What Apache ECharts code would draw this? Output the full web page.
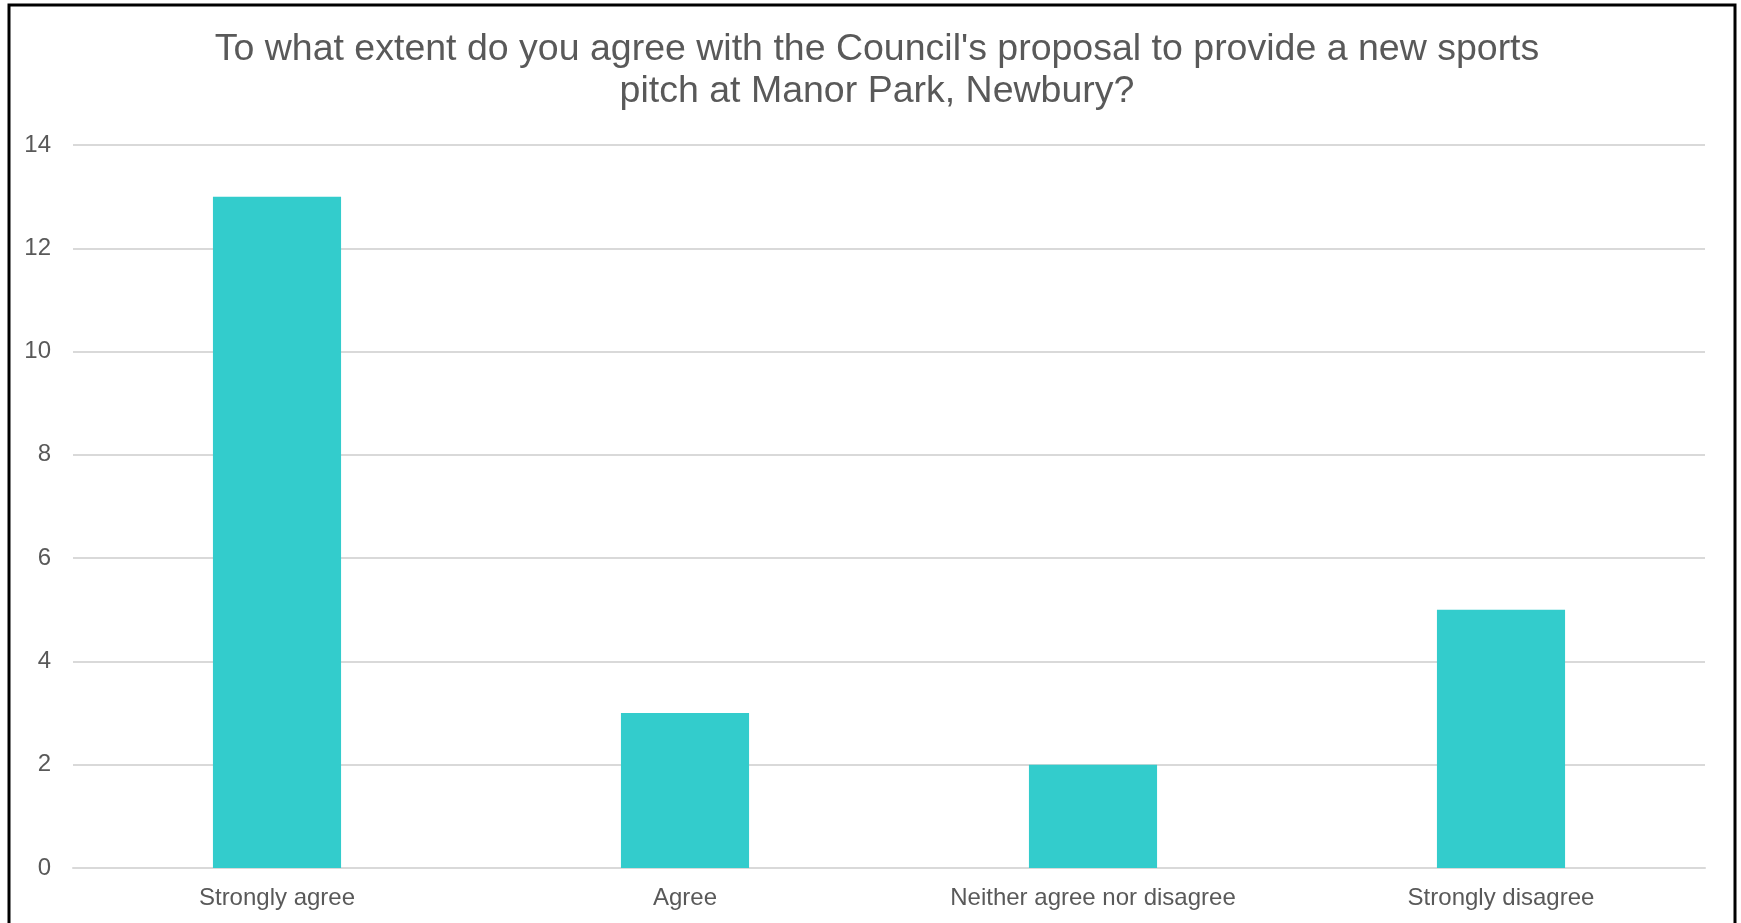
<!DOCTYPE html>
<html>
<head>
<meta charset="utf-8">
<script src="https://cdn.jsdelivr.net/npm/echarts@6/dist/echarts.min.js"></script>
<style>html,body{margin:0;padding:0;background:#fff;}#c{width:1741px;height:923px;}</style>
</head>
<body>
<div id="c"></div>
<script>
const titleText = "To what extent do you agree with the Council's proposal to provide a new sports\npitch at Manor Park, Newbury?";
const categories = ["Strongly agree", "Agree", "Neither agree nor disagree", "Strongly disagree"];
const values = [13, 3, 2, 5];
const yTicks = { min: 0, max: 14, interval: 2 };

const chart = echarts.init(document.getElementById('c'), null, { renderer: 'canvas' });
chart.setOption({
  animation: false,
  backgroundColor: '#ffffff',
  title: {
    text: titleText,
    left: 877,
    top: 29,
    textAlign: 'center',
    padding: 0,
    textStyle: { fontFamily: 'Liberation Sans, Arial, sans-serif', fontSize: 37.5, fontWeight: 'normal', color: '#595959', lineHeight: 42 }
  },
  graphic: [{
    type: 'rect', silent: true, z: 100,
    shape: { x: 9, y: 5, width: 1726, height: 1000 },
    style: { fill: 'none', stroke: '#000000', lineWidth: 3 }
  }],
  grid: { left: 73, right: 36, top: 145, bottom: 55, containLabel: false },
  xAxis: {
    type: 'category',
    data: categories,
    axisLine: { show: true, lineStyle: { color: '#d9d9d9', width: 2 } },
    axisTick: { show: false },
    axisLabel: { color: '#595959', fontSize: 24, fontFamily: 'Liberation Sans, Arial, sans-serif', margin: 18 }
  },
  yAxis: {
    type: 'value',
    min: yTicks.min, max: yTicks.max, interval: yTicks.interval,
    axisLine: { show: false },
    axisTick: { show: false },
    splitLine: { lineStyle: { color: '#d9d9d9', width: 2 } },
    axisLabel: { color: '#595959', fontSize: 24, fontFamily: 'Liberation Sans, Arial, sans-serif', margin: 22 }
  },
  series: [{
    type: 'bar',
    data: values,
    barWidth: '31.4%',
    itemStyle: { color: '#33CCCC' }
  }]
});
</script>
</body>
</html>
